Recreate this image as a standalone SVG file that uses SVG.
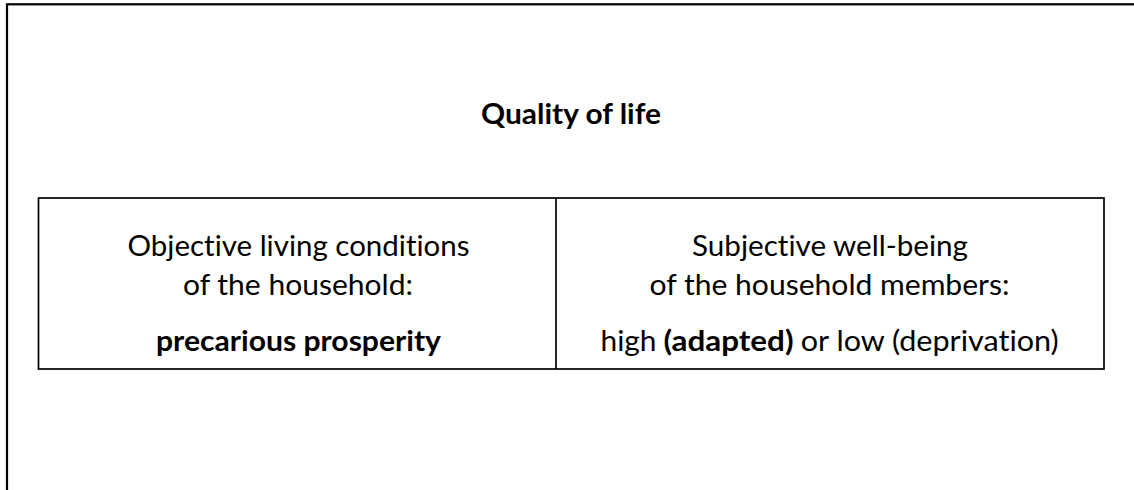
<svg xmlns="http://www.w3.org/2000/svg" width="1134" height="490" viewBox="0 0 1134 490">
  <style>
    .frame { fill: none; stroke: #000; stroke-width: 2.2; }
    .cell { fill: none; stroke: #000; stroke-width: 1.7; }
    .t { font-family: Lato, "Liberation Sans", sans-serif; font-size: 29px; fill: #000; font-variant-ligatures: none; font-feature-settings: "liga" 0; }
    .b { font-weight: bold; }
  </style>
  <rect width="1134" height="490" fill="#fff"/>

  <!-- outer frame, open past the right and bottom edges -->
  <g id="frame">
    <rect class="frame" x="7" y="4.3" width="1300" height="700"/>
  </g>

  <g id="title">
    <text class="t b" x="571" y="124" text-anchor="middle" textLength="180" lengthAdjust="spacingAndGlyphs">Quality of life</text>
  </g>

  <!-- two-cell table -->
  <g id="table">
    <rect class="cell" x="38.5" y="198" width="1065.5" height="171"/>
    <line class="cell" x1="556" y1="198" x2="556" y2="369"/>
  </g>

  <g id="objective">
    <text class="t" x="298.5" y="256" text-anchor="middle" textLength="342" lengthAdjust="spacingAndGlyphs">Objective living conditions</text>
    <text class="t" x="298" y="295" text-anchor="middle" textLength="230" lengthAdjust="spacingAndGlyphs">of the household:</text>
    <text class="t b" x="298.5" y="351" text-anchor="middle" textLength="285" lengthAdjust="spacingAndGlyphs">precarious prosperity</text>
  </g>

  <g id="subjective">
    <text class="t" x="830" y="256" text-anchor="middle" textLength="276" lengthAdjust="spacingAndGlyphs">Subjective well-being</text>
    <text class="t" x="829.5" y="295" text-anchor="middle" textLength="360" lengthAdjust="spacingAndGlyphs">of the household members:</text>
    <text class="t" x="600.5" y="351" textLength="56" lengthAdjust="spacingAndGlyphs">high</text>
    <text class="t b" x="663.5" y="351" textLength="130" lengthAdjust="spacingAndGlyphs">(adapted)</text>
    <text class="t" x="800.8" y="351" textLength="258" lengthAdjust="spacingAndGlyphs">or low (deprivation)</text>
  </g>
</svg>
